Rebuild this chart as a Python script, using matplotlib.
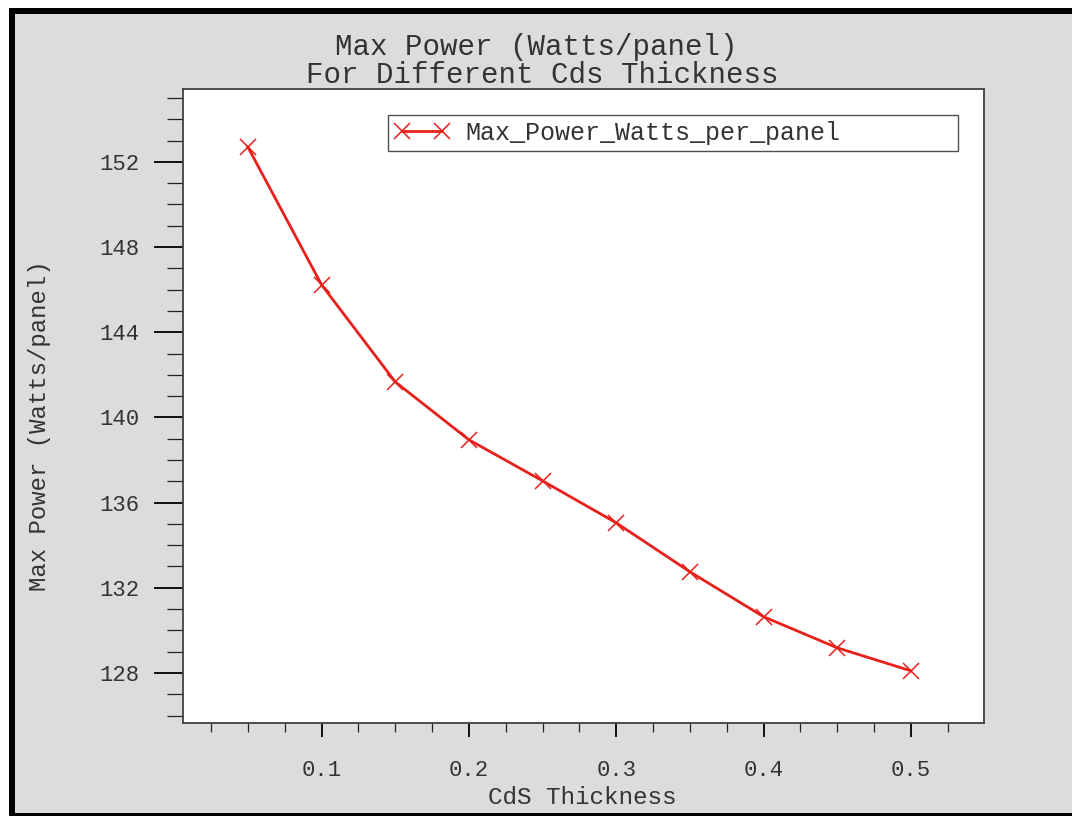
import numpy as np
import matplotlib
matplotlib.use("Agg")
import matplotlib.pyplot as plt
from matplotlib.patches import Rectangle
from matplotlib.ticker import MultipleLocator

# ------------------------------------------------------------
# data
# ------------------------------------------------------------
cds_thickness = [0.05, 0.10, 0.15, 0.20, 0.25, 0.30, 0.35, 0.40, 0.45, 0.50]
max_power = [152.70, 146.23, 141.67, 138.95, 137.02, 135.05, 132.75, 130.64, 129.18, 128.10]
series_name = "Max_Power_Watts_per_panel"
title_lines = ["Max Power (Watts/panel)", "For Different Cds Thickness"]
xlabel = "CdS Thickness"
ylabel = "Max Power (Watts/panel)"

# ------------------------------------------------------------
# style
# ------------------------------------------------------------
plt.rcParams['font.family'] = ['Liberation Mono', 'DejaVu Sans Mono']
bg = '#dcdcdc'
red = '#e8201b'
txt = '#333333'
spine = '#404040'

W, H = 1072, 816
fig = plt.figure(figsize=(W / 100, H / 100), dpi=100, facecolor=bg)

# window frame: white strip + black bars top/left/bottom
fig.patches.append(Rectangle((0, 1 - 8 / H), 1, 8 / H, transform=fig.transFigure,
                             facecolor='white', edgecolor='none', zorder=0))
fig.patches.append(Rectangle((0, 0), 9 / W, 1, transform=fig.transFigure,
                             facecolor='white', edgecolor='none', zorder=0))
fig.patches.append(Rectangle((9 / W, 0), 6 / W, 1 - 8 / H, transform=fig.transFigure,
                             facecolor='black', edgecolor='none', zorder=1))
fig.patches.append(Rectangle((9 / W, 1 - 14 / H), 1, 6 / H, transform=fig.transFigure,
                             facecolor='black', edgecolor='none', zorder=1))
fig.patches.append(Rectangle((9 / W, 0), 1, 3 / H, transform=fig.transFigure,
                             facecolor='black', edgecolor='none', zorder=1))

ax = fig.add_axes([183 / W, 1 - 723 / H, (984 - 183) / W, (723 - 89) / H])
ax.set_facecolor('white')

ax.plot(cds_thickness, max_power, color=red, lw=2.0, marker='x', markersize=11,
        markeredgewidth=1.1, markeredgecolor=red, label=series_name)

ax.set_xlim(0.006, 0.5496)
ax.set_ylim(125.65, 155.42)

ax.xaxis.set_major_locator(MultipleLocator(0.1))
ax.xaxis.set_minor_locator(MultipleLocator(0.025))
ax.yaxis.set_major_locator(MultipleLocator(4))
ax.yaxis.set_minor_locator(MultipleLocator(1))
ax.xaxis.set_major_formatter(plt.FuncFormatter(lambda v, p: f"{v:.1f}"))
ax.yaxis.set_major_formatter(plt.FuncFormatter(lambda v, p: f"{v:.0f}"))

for s in ['top', 'right', 'left', 'bottom']:
    ax.spines[s].set_color(spine)
    ax.spines[s].set_linewidth(1.3)

ax.tick_params(axis='y', which='major', direction='out', length=21, width=1.3,
               color='black', labelsize=16, labelcolor=txt, pad=10)
ax.tick_params(axis='y', which='minor', direction='out', length=11.5, width=0.9, color='#222222')
ax.tick_params(axis='x', which='major', direction='out', length=10, width=1.3,
               color='black', labelsize=16, labelcolor=txt, pad=17)
ax.tick_params(axis='x', which='minor', direction='out', length=6.5, width=0.9, color='#222222')

# axis labels
fig.text(582 / W, 1 - 798 / H, xlabel, ha='center', va='center', fontsize=17.5, color=txt)
fig.text(40 / W, 1 - 426 / H, ylabel, ha='center', va='center', rotation=90,
         fontsize=17.3, color=txt)

# two-line title
fig.text(536 / W, 1 - 55 / H, title_lines[0], ha='center', va='baseline', fontsize=21, color=txt)
fig.text(542 / W, 1 - 83 / H, title_lines[1], ha='center', va='baseline', fontsize=21, color=txt)

leg = ax.legend(loc='upper left', bbox_to_anchor=(0.256, 0.909, 0.7116, 0.05), mode='expand',
                fontsize=18, frameon=True, fancybox=False, borderpad=0.25, numpoints=2,
                handlelength=2.2, handletextpad=0.65, borderaxespad=0)
leg.get_frame().set_edgecolor('#222222')
leg.get_frame().set_linewidth(1.0)
for t in leg.get_texts():
    t.set_color(txt)

fig.savefig('out.png', dpi=100, facecolor=bg)
